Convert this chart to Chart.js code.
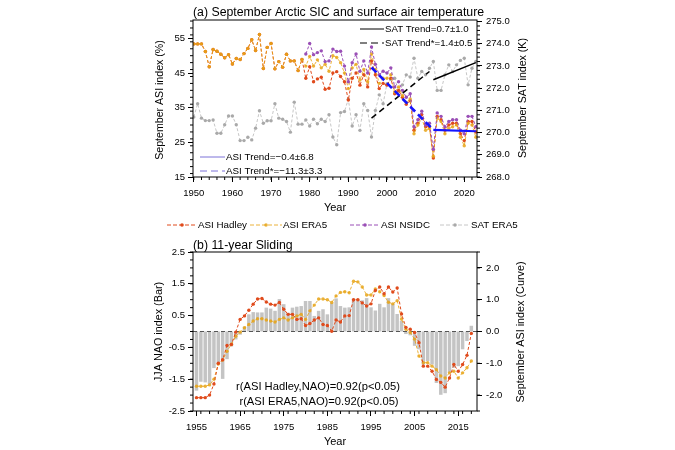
<!DOCTYPE html>
<html>
<head>
<meta charset="utf-8">
<script src="https://cdn.jsdelivr.net/npm/chart.js@4.4.0/dist/chart.umd.min.js"></script>
<style>
    html, body { margin: 0; padding: 0; background: #fff; }
    #wrap { position: relative; width: 675px; height: 450px; }
    canvas { position: absolute; left: 0; }
    #cTop { top: 0; }
    #cBot { top: 232px; }
</style>
</head>
<body>
<div id="wrap">
    <canvas id="cTop" width="675" height="232"></canvas>
    <canvas id="cBot" width="675" height="218"></canvas>
</div>
<script>
// Panel (a): September ASI (%) and SAT (K), 1950-2023
const startA = 1950;
const asiHadley = [
    53.4, 53.4, 53.4, 51.2, 46.8, 51.8, 51.3, 50.4, 49.4, 50.3,
    47.6, 49.2, 48.9, 50.6, 52.1, 54.6, 51.5, 56.1, 46.3, 52.4,
    53.5, 46.2, 48.3, 46.7, 50.4, 48.5, 48.5, 45.7, 48.9,
    43.5, 46.8, 42.5, 43.3, 43.8, 40.3, 40.6, 45.0, 45.4, 44.0,
    42.5, 37.2, 43.5, 45.0, 41.5, 44.5, 41.0, 48.5, 44.5, 40.5,
    42.0, 41.5, 43.5, 39.0, 40.0, 38.0, 36.0, 37.0, 28.5, 30.5,
    33.0, 29.5, 29.5, 20.5, 32.5, 31.5, 28.5, 30.0, 30.5, 30.5,
    27.5, 25.5, 31.0, 31.0, 28.0
];
const asiEra5 = [
    53.4, 53.4, 53.4, 51.2, 46.8, 51.8, 51.3, 50.4, 49.4, 50.3,
    47.6, 49.2, 48.9, 50.6, 52.1, 54.6, 51.5, 56.1, 46.3, 52.4,
    53.5, 46.2, 48.3, 46.7, 50.4, 48.5, 48.5, 45.7, 48.9,
    47.0, 49.8, 47.0, 48.8, 46.5, 47.5, 45.5, 50.0, 49.5, 48.0,
    45.0, 40.5, 46.5, 47.5, 43.0, 46.0, 42.5, 50.5, 46.0, 42.0,
    43.5, 43.5, 44.5, 39.5, 41.0, 38.5, 36.5, 37.5, 27.5, 30.0,
    32.0, 28.5, 29.0, 21.0, 32.0, 31.0, 27.5, 29.0, 29.5, 30.0,
    26.5, 24.0, 30.5, 30.0, 26.5
];
const startNsidc = 1979;
const asiNsidc = [
    50.5, 53.5, 50.3, 50.9, 51.4, 48.3, 48.5, 51.9, 51.2, 51.3,
    47.0, 42.5, 48.0, 50.5, 45.5, 48.5, 45.0, 52.5, 47.5, 44.5,
    45.5, 45.0, 46.5, 41.0, 42.5, 40.0, 38.0, 39.0, 29.5, 31.5,
    34.0, 30.0, 30.5, 23.0, 33.5, 32.5, 29.5, 31.0, 31.5, 31.5,
    28.5, 27.5, 32.5, 32.5, 29.5
];
const satEra5 = [
    270.7, 271.3, 270.65, 270.54, 270.54, 270.57, 269.97, 269.97, 270.35, 270.75,
    270.75, 270.35, 269.64, 269.64, 269.79, 269.67, 270.2, 270.98, 270.42, 270.53,
    270.53, 271.3, 270.65, 270.6, 270.5, 270.02, 271.37, 270.38, 270.38, 270.57,
    270.3, 270.6, 270.4, 270.6, 270.5, 270.8, 269.8, 269.45, 270.9, 270.95,
    271.5, 270.3, 270.8, 270.1, 271.3, 271.0, 269.8, 271.0, 271.7, 271.3,
    272.2, 272.4, 272.45, 271.85, 272.15, 272.6, 272.5, 273.35, 272.45, 272.75,
    272.6, 272.9, 273.2, 271.9, 271.9, 272.6, 273.05, 272.75, 273.05, 273.25,
    273.35, 272.15, 272.9, 273.2
];

// trend lines (end points of the fits)
const asiTrendStarYears = [1996, 2012];
const asiTrendStarVals = [46.6, 28.6];
const asiTrendYears = [2012, 2023];
const asiTrendVals = [28.6, 28.2];
const satTrendStarYears = [1996, 2011];
const satTrendStarVals = [270.65, 272.75];
const satTrendYears = [2012, 2023];
const satTrendVals = [272.38, 273.15];

const ticksAx = [1950, 1960, 1970, 1980, 1990, 2000, 2010, 2020];
const ticksAy = [15, 25, 35, 45, 55];
const ticksAy2 = [268, 269, 270, 271, 272, 273, 274, 275];

// Panel (b): 11-year sliding, 1955-2018
const startB = 1955;
const naoBar = [
    -1.86, -1.58, -1.6, -1.66, -1.15, -1.05, -1.49, -0.87, -0.47, -0.25,
    -0.1, 0.15, 0.54, 0.61, 0.6, 0.6, 0.75, 0.72, 0.65, 1.02,
    0.86, 0.59, 0.75, 0.78, 0.8, 0.96, 0.96, 0.49, 0.65, 0.7,
    0.54, 0.91, 1.04, 0.8, 0.75, 0.76, 1.03, 1.0, 0.98, 1.05,
    0.76, 0.66, 0.87, 0.76, 1.05, 0.87, 0.55, 0.34, -0.08, -0.12,
    -0.45, -0.56, -1.04, -0.93, -1.04, -1.62, -1.99, -1.94, -1.3, -1.14,
    -1.09, -0.56, -0.3, 0.18
];
const slideHadley = [
    -2.08, -2.08, -2.08, -2.0, -1.65, -1.0, -0.89, -0.44, -0.41, -0.02,
    0.38, 0.49, 0.67, 0.86, 1.02, 1.04, 0.93, 0.86, 0.83, 0.91,
    0.7, 0.54, 0.54, 0.38, 0.4, 0.19, 0.25, 0.36, 0.43, 0.22,
    0.19, 0.01, 0.36, 0.3, 0.49, 0.5, 1.0, 1.0, 0.9, 0.8,
    0.87, 1.29, 1.4, 1.19, 1.4, 1.24, 1.37, 0.55, 0.13, 0.07,
    -0.03, -0.35, -1.09, -1.09, -1.25, -1.51, -1.6, -1.75, -1.46, -1.04,
    -1.25, -1.04, -0.75, -0.06
];
const slideEra5 = [
    -1.72, -1.72, -1.72, -1.68, -1.5, -1.02, -0.9, -0.62, -0.4, -0.15,
    -0.02, 0.12, 0.22, 0.33, 0.4, 0.4, 0.36, 0.33, 0.3, 0.38,
    0.43, 0.36, 0.43, 0.49, 0.54, 0.38, 0.65, 0.83, 1.02, 1.02,
    1.0, 0.91, 1.12, 1.23, 1.25, 1.22, 1.58, 1.56, 1.4, 1.15,
    1.15, 1.34, 1.25, 1.13, 0.92, 0.87, 0.97, 0.39, 0.07, -0.03,
    -0.24, -0.77, -0.98, -0.98, -1.09, -1.2, -1.4, -1.46, -1.3, -1.25,
    -1.46, -1.3, -1.14, -0.93
];

const ticksBx = [1955, 1965, 1975, 1985, 1995, 2005, 2015];
const ticksBy = [-2.5, -1.5, -0.5, 0.5, 1.5, 2.5];
const ticksBy2 = [-2, -1, 0, 1, 2];

// colours
const C = {
    hadley: '#e04b1c',
    era5: 'rgba(232, 164, 24, 0.85)',
    nsidc: '#9a4fb6',
    sat: '#c6c6c6',
    satDot: '#a9a9a9',
    trendBlue: '#1414ff',
    trendLegend: '#7c72d8',
    bar: '#c4c4c4'
};

Chart.defaults.font.family = '"Liberation Sans", Arial, Helvetica, sans-serif';
Chart.defaults.color = '#000';

const toXY = (start, arr) => arr.map((v, i) => ({ x: start + i, y: v }));
const pairXY = (xs, ys) => xs.map((x, i) => ({ x: x, y: ys[i] }));

function series(label, data, color, dot, axis, order) {
    return {
        type: 'line', label: label, data: data, yAxisID: axis, order: order,
        borderColor: color, borderWidth: 1, borderDash: [3, 2],
        pointRadius: 1.7, pointBackgroundColor: dot, pointBorderWidth: 0,
        fill: false, tension: 0
    };
}

function trend(data, color, width, dash, axis) {
    return {
        type: 'line', data: data, yAxisID: axis, order: 0,
        borderColor: color, borderWidth: width, borderDash: dash,
        pointRadius: 0, fill: false, tension: 0
    };
}

function axisOpts(min, max, ticks, fit, fmt, pad) {
    return {
        type: 'linear', min: min, max: max, offset: false,
        afterBuildTicks: s => { s.ticks = ticks.map(v => ({ value: v })); },
        afterFit: fit,
        ticks: { autoSkip: false, maxRotation: 0, padding: pad, font: { size: 9.5 }, callback: fmt },
        grid: { drawOnChartArea: false, drawTicks: true, tickLength: 5, color: '#000', lineWidth: 1, offset: false },
        border: { display: false }
    };
}

// minor ticks drawn outward from the frame
function drawMinor(chart, id, step, len) {
    const s = chart.scales[id];
    const a = chart.chartArea;
    const ctx = chart.ctx;
    const n0 = Math.ceil(s.min / step - 1e-6);
    const n1 = Math.floor(s.max / step + 1e-6);
    ctx.save();
    ctx.strokeStyle = '#000';
    ctx.lineWidth = 1;
    ctx.beginPath();
    for (let n = n0; n <= n1; n++) {
        const p = s.getPixelForValue(n * step);
        if (s.isHorizontal()) { ctx.moveTo(p, a.bottom); ctx.lineTo(p, a.bottom + len); }
        else if (s.position === 'left') { ctx.moveTo(a.left, p); ctx.lineTo(a.left - len, p); }
        else { ctx.moveTo(a.right, p); ctx.lineTo(a.right + len, p); }
    }
    ctx.stroke();
    ctx.restore();
}

function frame(chart) {
    const a = chart.chartArea;
    const ctx = chart.ctx;
    ctx.save();
    ctx.strokeStyle = '#000';
    ctx.lineWidth = 1;
    ctx.strokeRect(a.left, a.top, a.right - a.left, a.bottom - a.top);
    ctx.restore();
}

function text(ctx, str, x, y, size, align, rot) {
    ctx.save();
    ctx.font = size + 'px "Liberation Sans", Arial, sans-serif';
    ctx.fillStyle = '#000';
    ctx.textAlign = align || 'left';
    ctx.textBaseline = 'middle';
    ctx.translate(x, y);
    if (rot) ctx.rotate(rot);
    ctx.fillText(str, 0, 0);
    ctx.restore();
}

function sampleLine(ctx, x0, x1, y, color, width, dash, dot) {
    ctx.save();
    ctx.strokeStyle = color;
    ctx.lineWidth = width;
    ctx.setLineDash(dash);
    ctx.beginPath();
    ctx.moveTo(x0, y);
    ctx.lineTo(x1, y);
    ctx.stroke();
    if (dot) {
        ctx.fillStyle = dot;
        ctx.beginPath();
        ctx.arc((x0 + x1) / 2, y, 1.8, 0, Math.PI * 2);
        ctx.fill();
    }
    ctx.restore();
}

const decoTop = {
    id: 'decoTop',
    afterDraw(chart) {
        const ctx = chart.ctx;
        frame(chart);
        drawMinor(chart, 'x', 2, 3);
        drawMinor(chart, 'y', 2, 3);
        drawMinor(chart, 'y2', 0.2, 3);
        text(ctx, '(a) September Arctic SIC and surface air temperature', 193, 13, 12.3);
        text(ctx, 'Year', 335, 208, 11, 'center');
        text(ctx, 'September ASI index (%)', 160, 100, 10.6, 'center', -Math.PI / 2);
        text(ctx, 'September SAT index (K)', 523, 98, 10.6, 'center', -Math.PI / 2);

        // trend keys
        sampleLine(ctx, 360, 384, 29, '#000', 1, []);
        text(ctx, 'SAT Trend=0.7\u00b11.0', 385, 29, 9.7);
        sampleLine(ctx, 360, 384, 43, '#000', 1, [7, 4]);
        text(ctx, 'SAT Trend*=1.4\u00b10.5', 385, 43, 9.7);
        sampleLine(ctx, 200, 225, 157, C.trendLegend, 1, []);
        text(ctx, 'ASI Trend=\u22120.4\u00b16.8', 226, 157, 9.8);
        sampleLine(ctx, 200, 225, 171, C.trendLegend, 1, [7, 4]);
        text(ctx, 'ASI Trend*=\u221211.3\u00b13.3', 226, 171, 9.8);

        // series legend
        const row = 225;
        sampleLine(ctx, 167, 197, row, C.hadley, 1, [4, 2], C.hadley);
        text(ctx, 'ASI Hadley', 198, row, 9.8);
        sampleLine(ctx, 250, 282, row, C.era5, 1, [4, 2], C.era5);
        text(ctx, 'ASI ERA5', 283, row, 9.8);
        sampleLine(ctx, 350, 380, row, C.nsidc, 1, [4, 2], C.nsidc);
        text(ctx, 'ASI NSIDC', 381, row, 9.8);
        sampleLine(ctx, 440, 470, row, C.sat, 1, [4, 2], C.satDot);
        text(ctx, 'SAT ERA5', 471, row, 9.8);
    }
};

new Chart(document.getElementById('cTop'), {
    type: 'line',
    data: {
        datasets: [
            trend(pairXY(asiTrendStarYears, asiTrendStarVals), C.trendBlue, 2.6, [7, 4], 'y'),
            trend(pairXY(asiTrendYears, asiTrendVals), C.trendBlue, 2.2, [], 'y'),
            trend(pairXY(satTrendStarYears, satTrendStarVals), '#000', 1.5, [6, 4], 'y2'),
            trend(pairXY(satTrendYears, satTrendVals), '#000', 1.5, [], 'y2'),
            series('ASI NSIDC', toXY(startNsidc, asiNsidc), C.nsidc, C.nsidc, 'y', 1),
            series('ASI ERA5', toXY(startA, asiEra5), C.era5, C.era5, 'y', 2),
            series('ASI Hadley', toXY(startA, asiHadley), C.hadley, C.hadley, 'y', 3),
            series('SAT ERA5', toXY(startA, satEra5), C.sat, C.satDot, 'y2', 4)
        ]
    },
    options: {
        responsive: false,
        animation: false,
        events: [],
        layout: { padding: { top: 20, left: 0, right: 0, bottom: 0 } },
        plugins: { legend: { display: false }, tooltip: { enabled: false } },
        scales: {
            x: Object.assign(axisOpts(1949.8, 2023.3, ticksAx, s => { s.height = 55; }, v => String(v), 6), { position: 'bottom' }),
            y: Object.assign(axisOpts(15, 60.3, ticksAy, s => { s.width = 193; }, v => String(v), 3), { position: 'left' }),
            y2: Object.assign(axisOpts(268, 275.07, ticksAy2, s => { s.width = 198; }, v => v.toFixed(1), 4), { position: 'right' })
        }
    },
    plugins: [decoTop]
});

const decoBot = {
    id: 'decoBot',
    afterDatasetDraw(chart, args) {
        // dashed zero line, right after the bars
        if (args.index !== 2) return;
        const a = chart.chartArea;
        const y0 = chart.scales.y.getPixelForValue(0);
        const ctx = chart.ctx;
        ctx.save();
        ctx.strokeStyle = '#555';
        ctx.lineWidth = 1;
        ctx.setLineDash([4, 3]);
        ctx.beginPath();
        ctx.moveTo(a.left, y0);
        ctx.lineTo(a.right, y0);
        ctx.stroke();
        ctx.restore();
    },
    afterDraw(chart) {
        const ctx = chart.ctx;
        frame(chart);
        drawMinor(chart, 'x', 2, 3);
        drawMinor(chart, 'y', 0.25, 3);
        drawMinor(chart, 'y2', 0.5, 3);
        text(ctx, '(b) 11-year Sliding', 193, 14, 12.3);
        text(ctx, 'Year', 335, 210, 11, 'center');
        text(ctx, 'JJA NAO index (Bar)', 159, 100, 10.8, 'center', -Math.PI / 2);
        text(ctx, 'September ASI index (Curve)', 521, 100, 10.8, 'center', -Math.PI / 2);
        text(ctx, 'r(ASI Hadley,NAO)=0.92(p<0.05)', 318, 155, 11.2, 'center');
        text(ctx, 'r(ASI ERA5,NAO)=0.92(p<0.05)', 319, 170, 11.2, 'center');
    }
};

new Chart(document.getElementById('cBot'), {
    type: 'bar',
    data: {
        datasets: [
            series('Hadley', toXY(startB, slideHadley), C.hadley, C.hadley, 'y2', 0),
            series('ERA5', toXY(startB, slideEra5), C.era5, C.era5, 'y2', 1),
            {
                type: 'bar', label: 'NAO', data: toXY(startB, naoBar), yAxisID: 'y', order: 5,
                backgroundColor: C.bar, borderWidth: 0,
                barPercentage: 1, categoryPercentage: 0.8
            }
        ]
    },
    options: {
        responsive: false,
        animation: false,
        events: [],
        layout: { padding: { top: 20, left: 0, right: 0, bottom: 0 } },
        plugins: { legend: { display: false }, tooltip: { enabled: false } },
        scales: {
            x: Object.assign(axisOpts(1954.2, 2019.3, ticksBx, s => { s.height = 39; }, v => String(v), 6), { position: 'bottom' }),
            y: Object.assign(axisOpts(-2.5, 2.5, ticksBy, s => { s.width = 193; }, v => v.toFixed(1), 3), { position: 'left' }),
            y2: Object.assign(axisOpts(-2.5, 2.5, ticksBy2, s => { s.width = 198; }, v => v.toFixed(1), 4), { position: 'right' })
        }
    },
    plugins: [decoBot]
});
</script>
</body>
</html>
